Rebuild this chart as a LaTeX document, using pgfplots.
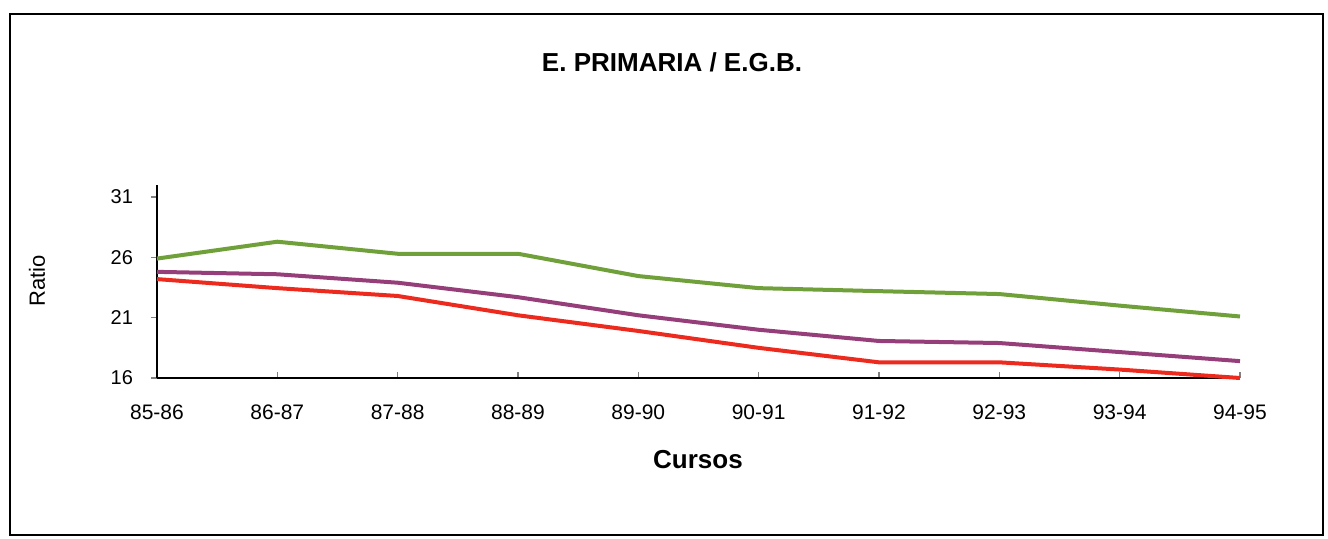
\documentclass[border=0pt]{standalone}
\usepackage{pgfplots}
\pgfplotsset{compat=1.18}
\usepackage{fontspec}
\setmainfont{Liberation Sans}
\definecolor{cgreen}{RGB}{112,160,58}
\definecolor{cpurple}{RGB}{150,62,122}
\definecolor{cred}{RGB}{236,42,30}
\begin{document}
\begin{tikzpicture}
\useasboundingbox (0,0) rectangle (664pt,269pt);
\draw[line width=1pt] (5pt,1.5pt) rectangle (661.5pt,262pt);
\node[font=\bfseries\fontsize{13}{15}\selectfont] at (336pt,238pt) {E. PRIMARIA / E.G.B.};
\begin{axis}[
  at={(78.5pt,80pt)}, anchor=south west,
  scale only axis, width=541.5pt, height=96.5pt,
  xmin=0, xmax=9, ymin=16, ymax=32,
  axis x line=bottom, axis y line=left,
  axis line style={-, line width=0.8pt},
  xtick={0,...,9},
  xticklabels={85-86,86-87,87-88,88-89,89-90,90-91,91-92,92-93,93-94,94-95},
  ytick={16,21,26,31},
  tick align=inside,
  major tick length=3pt,
  ytick style={xshift=-3pt, line width=0.8pt},
  xtick style={line width=0.8pt},
  xticklabel style={font=\fontsize{10.5}{12}\selectfont, yshift=-10pt},
  yticklabel style={font=\fontsize{10}{12}\selectfont, xshift=-8.5pt},
  /pgf/number format/assume math mode=true,
  clip=false,
]
\addplot[cgreen, line width=2pt] coordinates {
 (0,25.9) (1,27.3) (2,26.3) (3,26.3) (4,24.45) (5,23.45) (6,23.2) (7,22.96) (8,22.0) (9,21.1)};
\addplot[cpurple, line width=2pt] coordinates {
 (0,24.8) (1,24.6) (2,23.9) (3,22.7) (4,21.2) (5,20.0) (6,19.07) (7,18.9) (8,18.15) (9,17.4)};
\addplot[cred, line width=2pt] coordinates {
 (0,24.2) (1,23.45) (2,22.8) (3,21.2) (4,19.9) (5,18.5) (6,17.3) (7,17.3) (8,16.7) (9,16.0)};
\end{axis}
\node[font=\bfseries\fontsize{13}{15}\selectfont] at (349pt,39pt) {Cursos};
\node[font=\fontsize{11}{13}\selectfont, rotate=90] at (18.5pt,128.5pt) {Ratio};
\end{tikzpicture}
\end{document}
